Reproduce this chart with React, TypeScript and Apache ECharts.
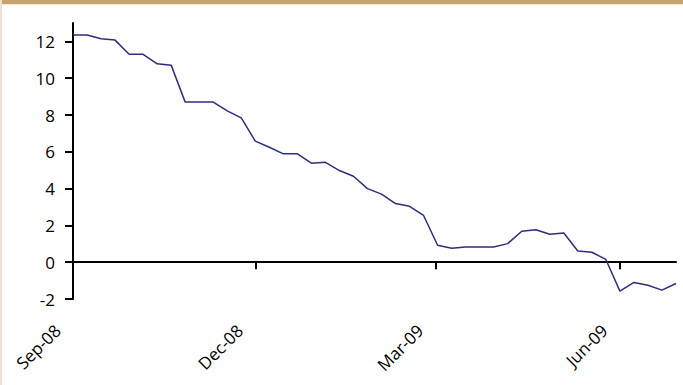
import React, { useEffect, useRef } from "react";
import * as echarts from "echarts";

const dates: string[] = [
  "2008-09-01", "2008-09-08", "2008-09-15", "2008-09-22", "2008-09-29",
  "2008-10-06", "2008-10-13", "2008-10-20", "2008-10-27",
  "2008-11-03", "2008-11-10", "2008-11-17", "2008-11-24",
  "2008-12-01", "2008-12-08", "2008-12-15", "2008-12-22", "2008-12-29",
  "2009-01-05", "2009-01-12", "2009-01-19", "2009-01-26",
  "2009-02-02", "2009-02-09", "2009-02-16", "2009-02-23",
  "2009-03-02", "2009-03-09", "2009-03-16", "2009-03-23", "2009-03-30",
  "2009-04-06", "2009-04-13", "2009-04-20", "2009-04-27",
  "2009-05-04", "2009-05-11", "2009-05-18", "2009-05-25",
  "2009-06-01", "2009-06-08", "2009-06-15", "2009-06-22", "2009-06-29",
];

const values: number[] = [
  12.35, 12.35, 12.14, 12.07, 11.3,
  11.3, 10.78, 10.71, 8.7,
  8.7, 8.7, 8.22, 7.84,
  6.58, 6.25, 5.89, 5.89, 5.38,
  5.43, 4.98, 4.67, 4.0,
  3.7, 3.19, 3.04, 2.54,
  0.92, 0.76, 0.83, 0.83, 0.83,
  1.01, 1.68, 1.76, 1.52,
  1.59, 0.61, 0.54, 0.15,
  -1.57, -1.1, -1.25, -1.52, -1.16,
];

const xTickDates: string[] = ["2008-09-01", "2008-12-01", "2009-03-01", "2009-06-01"];
const yTicks: number[] = [-2, 0, 2, 4, 6, 8, 10, 12];
const monthNames = ["Jan", "Feb", "Mar", "Apr", "May", "Jun", "Jul", "Aug", "Sep", "Oct", "Nov", "Dec"];

const FONT = "'Open Sans', sans-serif";

export default function App() {
  const ref = useRef<HTMLDivElement>(null);
  useEffect(() => {
    if (!ref.current) return;
    const chart = echarts.init(ref.current, null, { renderer: "svg" });
    const ts = dates.map((d) => Date.parse(d));
    const xTicks = xTickDates.map((d) => Date.parse(d));
    const xMin = ts[0];
    const xMax = ts[ts.length - 1];
    const fmt = (v: number) => {
      const d = new Date(v);
      return monthNames[d.getUTCMonth()] + "-" + String(d.getUTCFullYear() % 100).padStart(2, "0");
    };
    chart.setOption({
      animation: false,
      backgroundColor: "#ffffff",
      graphic: [
        { type: "rect", shape: { x: 0, y: 0, width: 683, height: 4 }, style: { fill: "#C9A36F" }, silent: true },
        { type: "rect", shape: { x: 0, y: 4, width: 683, height: 1 }, style: { fill: "#F4E6D4" }, silent: true },
        { type: "rect", shape: { x: 0, y: 0, width: 2, height: 385 }, style: { fill: "#EFE1CF" }, silent: true },
      ],
      grid: { left: 73, right: 7, top: 23, bottom: 86, containLabel: false },
      xAxis: [
        {
          type: "value",
          min: xMin,
          max: xMax,
          position: "bottom",
          axisLine: { show: true, onZero: true, lineStyle: { color: "#000", width: 2 } },
          axisTick: { show: true, customValues: xTicks, length: 7, lineStyle: { color: "#000", width: 2 } },
          axisLabel: { show: false },
          splitLine: { show: false },
        },
        {
          type: "value",
          min: xMin,
          max: xMax,
          position: "bottom",
          axisLine: { show: false, onZero: false },
          axisTick: { show: false },
          splitLine: { show: false },
          axisLabel: {
            show: true,
            customValues: xTicks,
            formatter: (v: number) => fmt(v),
            rotate: 45,
            margin: 13,
            padding: [0, 22, 0, 0],
            fontFamily: FONT,
            fontSize: 17,
            color: "#000",
          },
        },
      ],
      yAxis: {
        type: "value",
        min: -2,
        max: 13,
        axisLine: { show: true, lineStyle: { color: "#000", width: 2 } },
        axisTick: { show: true, customValues: yTicks, length: 8, lineStyle: { color: "#000", width: 2 } },
        axisLabel: {
          customValues: yTicks,
          margin: 18,
          fontFamily: FONT,
          fontSize: 17,
          color: "#000",
        },
        splitLine: { show: false },
      },
      series: [
        {
          type: "line",
          xAxisIndex: 0,
          data: ts.map((t, i) => [t, values[i]]),
          symbol: "none",
          lineStyle: { color: "#2B2F7E", width: 1.5 },
        },
      ],
    });
    return () => chart.dispose();
  }, []);
  return (
    <div
      ref={ref}
      style={{ position: "fixed", left: 0, top: 0, width: 683, height: 385 }}
    />
  );
}
